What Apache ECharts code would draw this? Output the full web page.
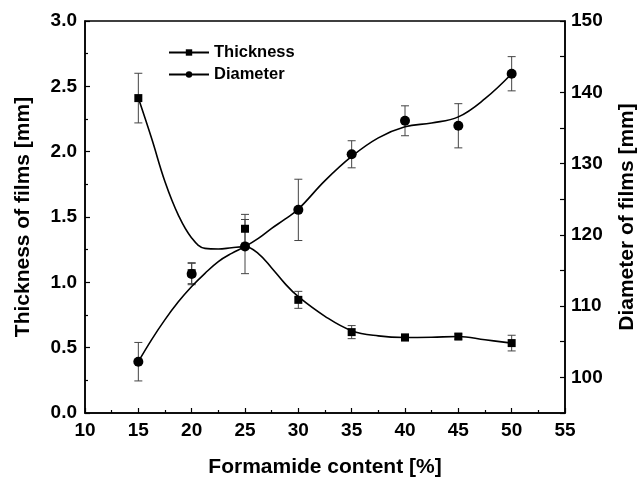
<!DOCTYPE html>
<html>
<head>
<meta charset="utf-8">
<script src="https://cdn.jsdelivr.net/npm/echarts@6/dist/echarts.min.js"></script>
<style>
  html, body { margin: 0; padding: 0; background: #fff; }
  #chart { width: 640px; height: 481px; }
</style>
</head>
<body>
<div id="chart"></div>
<script>
// measured points
const xValues = [15, 20, 25, 30, 35, 40, 45, 50];
const thickness = [2.41, 1.07, 1.41, 0.866, 0.619, 0.578, 0.585, 0.535];
const thicknessErr = [0.19, 0.08, 0.11, 0.065, 0.05, 0.025, 0.02, 0.06];
const diameter = [102.2, 114.5, 118.35, 123.5, 131.3, 136.0, 135.3, 142.6];
const diameterErr = [2.7, 1.5, 3.8, 4.3, 1.9, 2.1, 3.1, 2.4];

// fitted curves
const fitX = [15, 16.25, 17.5, 18.75, 20, 21.25, 22.5, 23.75, 25, 26.25, 27.5, 28.75, 30, 32.5, 35, 37.5, 40, 42.5, 45, 47.5, 50];
const thicknessFit = [2.41, 2.10, 1.77, 1.515, 1.34, 1.26, 1.255, 1.265, 1.273, 1.22, 1.11, 0.99, 0.89, 0.74, 0.63, 0.59, 0.578, 0.58, 0.585, 0.56, 0.535];
const diameterFit = [102.2, 105.3, 108.1, 110.6, 112.75, 114.6, 116.25, 117.4, 118.35, 119.5, 120.9, 122.2, 123.6, 127.6, 131.0, 133.6, 135.15, 135.7, 136.55, 139.1, 142.6];

const font = "'Liberation Sans', Arial, sans-serif";

function pairs(xs, ys) {
  return xs.map((x, i) => [x, ys[i]]);
}
function errData(ys, es) {
  return xValues.map((x, i) => [x, ys[i] - es[i], ys[i] + es[i]]);
}
function errBar(params, api) {
  const x = api.value(0);
  const lo = api.coord([x, api.value(1)]);
  const hi = api.coord([x, api.value(2)]);
  const w = 4;
  const st = { stroke: "#444", lineWidth: 1 };
  return {
    type: "group",
    children: [
      { type: "line", shape: { x1: lo[0], y1: lo[1], x2: hi[0], y2: hi[1] }, style: st },
      { type: "line", shape: { x1: lo[0] - w, y1: lo[1], x2: lo[0] + w, y2: lo[1] }, style: st },
      { type: "line", shape: { x1: hi[0] - w, y1: hi[1], x2: hi[0] + w, y2: hi[1] }, style: st }
    ]
  };
}

const chart = echarts.init(document.getElementById("chart"));
const axisCommon = {
  axisLine: { show: true, lineStyle: { color: "#000", width: 1.5 } },
  axisTick: { show: true, inside: true, length: 5, lineStyle: { color: "#000", width: 1.2 } },
  minorTick: { show: true, splitNumber: 2, length: 3, lineStyle: { color: "#000", width: 1.2 } },
  splitLine: { show: false },
  axisLabel: { color: "#000", fontFamily: font, fontWeight: "bold", fontSize: 19 },
  nameTextStyle: { color: "#000", fontFamily: font, fontWeight: "bold", fontSize: 21 }
};

const option = {
  animation: false,
  backgroundColor: "#fff",
  grid: {
    left: 85, right: 75, top: 21, bottom: 68,
    outerBoundsMode: "none",
    containLabel: false,
    show: true, borderColor: "#000", borderWidth: 1.5
  },
  legend: {
    data: ["Thickness", "Diameter"],
    orient: "vertical",
    left: 163,
    top: 39,
    itemWidth: 40,
    itemHeight: 8,
    itemGap: 5,
    textStyle: { color: "#000", fontFamily: font, fontWeight: "bold", fontSize: 16.5 }
  },
  xAxis: Object.assign({}, axisCommon, {
    type: "value",
    min: 10,
    max: 55,
    interval: 5,
    name: "Formamide content [%]",
    nameLocation: "middle",
    nameGap: 44,
    axisLabel: Object.assign({}, axisCommon.axisLabel, { margin: 8 })
  }),
  yAxis: [
    Object.assign({}, axisCommon, {
      type: "value",
      min: 0,
      max: 3,
      interval: 0.5,
      name: "Thickness of films [mm]",
      nameLocation: "middle",
      nameGap: 51,
      axisLabel: Object.assign({}, axisCommon.axisLabel, { margin: 8, formatter: v => v.toFixed(1) })
    }),
    Object.assign({}, axisCommon, {
      type: "value",
      position: "right",
      min: 95,
      max: 150,
      interval: 5,
      name: "Diameter of films [mm]",
      nameLocation: "middle",
      nameGap: 52,
      minorTick: { show: false },
      axisLabel: Object.assign({}, axisCommon.axisLabel, { margin: 6, formatter: v => (v % 10 === 0 ? String(v) : "") })
    })
  ],
  series: [
    {
      name: "Thickness",
      type: "line",
      yAxisIndex: 0,
      smooth: 0.4,
      symbol: "rect",
      symbolSize: 8,
      showSymbol: false,
      itemStyle: { color: "#000" },
      lineStyle: { color: "#000", width: 1.6 },
      data: pairs(fitX, thicknessFit),
      z: 3
    },
    {
      name: "Diameter",
      type: "line",
      yAxisIndex: 1,
      smooth: 0.4,
      symbol: "circle",
      symbolSize: 9,
      showSymbol: false,
      itemStyle: { color: "#000" },
      lineStyle: { color: "#000", width: 1.6 },
      data: pairs(fitX, diameterFit),
      z: 3
    },
    {
      name: "thicknessErr",
      type: "custom",
      yAxisIndex: 0,
      renderItem: errBar,
      data: errData(thickness, thicknessErr),
      z: 2
    },
    {
      name: "diameterErr",
      type: "custom",
      yAxisIndex: 1,
      renderItem: errBar,
      data: errData(diameter, diameterErr),
      z: 2
    },
    {
      name: "thicknessPts",
      type: "scatter",
      yAxisIndex: 0,
      symbol: "rect",
      symbolSize: 8,
      itemStyle: { color: "#000", opacity: 1 },
      data: pairs(xValues, thickness),
      z: 4
    },
    {
      name: "diameterPts",
      type: "scatter",
      yAxisIndex: 1,
      symbol: "circle",
      symbolSize: 10,
      itemStyle: { color: "#000", opacity: 1 },
      data: pairs(xValues, diameter),
      z: 4
    }
  ]
};
chart.setOption(option);
</script>
</body>
</html>
